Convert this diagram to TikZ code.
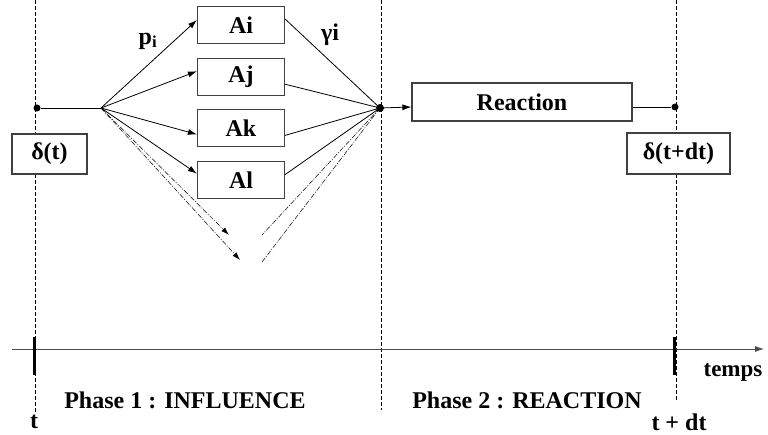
\documentclass[tikz,border=0pt]{standalone}
\usepackage{fontspec}
\setmainfont{Liberation Serif}
\usepackage{tikz}
\usetikzlibrary{arrows.meta,positioning,calc}

\begin{document}
\begin{tikzpicture}[
      x=1pt, y=-1pt,
      node distance=13.5pt,
      font=\fontsize{24}{28}\selectfont\bfseries,
      box/.style={draw=black!75, line width=1.2pt, fill=white, inner sep=0pt, minimum width=87pt, minimum height=37pt},
      arr/.style={-{Latex[length=9pt,width=6pt]}, line width=0.8pt},
      lnk/.style={line width=0.8pt},
      guide/.style={line width=0.7pt, dash pattern=on 4pt off 2pt},
      hint/.style={line width=0.5pt, dash pattern=on 5pt off 1.5pt on 1pt off 1.5pt},
      dotmark/.style={circle, fill=black, inner sep=0pt, minimum size=7pt},
      tick/.style={line width=3pt}
    ]
      \useasboundingbox (0,0) rectangle (768,435);
      % dashed time guides
      \draw[guide] (35,0) -- (35,412);
      \draw[guide] (381,0) -- (381,410);
      \draw[guide] (676,0) -- (676,400);
      % time axis
      \coordinate (tl0) at (12,349);
      \coordinate (tl1) at (764,349);
      \draw[arr, draw=black!70] (tl0) -- (tl1);
      \draw[tick] (34,337) -- (34,375);
      \draw[tick] (674,337) -- (674,375);
      % states
      \node[box, minimum width=75pt, minimum height=40pt] (st0) at (49.5,154) {δ(t)};
      \node[box, minimum width=103pt, minimum height=41pt] (st1) at (678.5,153.5) {δ(t+dt)};
      % influences
      \node[box] (ai) at (241,25) {Ai};
      \node[box, below=of ai] (aj) {Aj};
      \node[box, below=of aj] (ak) {Ak};
      \node[box, below=of ak] (al) {Al};
      \node[box, minimum width=220pt, minimum height=38pt] (reac) at (522,102) {Reaction};
      \node[dotmark] (d0) at (37,108) {};
      \node[dotmark] (d1) at (675,107) {};
      \node[dotmark, minimum size=8pt] (mrg) at (380,108) {};
      \coordinate (fork) at (101,108);
      \coordinate (h1) at (229,235);
      \coordinate (h2) at (240,260);
      \coordinate (h3) at (262,235);
      \coordinate (h4) at (262,262);
      \draw[lnk] (d0) -- (fork);
      \draw[arr] (fork) -- ($(ai.west)+(0,-5)$);
      \draw[arr] (fork) -- ($(aj.west)+(0,-5.5)$);
      \draw[arr] (fork) -- ($(ak.west)+(0,6)$);
      \draw[arr] (fork) -- ($(al.west)+(0,-6.5)$);
      \draw[hint, -{Latex[length=8pt,width=5pt]}] (fork) -- (h1);
      \draw[hint, -{Latex[length=8pt,width=5pt]}] (fork) -- (h2);
      \draw[lnk] ($(ai.east)+(0,-6)$) -- (mrg.center);
      \draw[lnk] ($(aj.east)+(0,7.5)$) -- (mrg.center);
      \draw[lnk] ($(ak.east)+(0,7)$) -- (mrg.center);
      \draw[lnk] ($(al.east)+(0,-5.5)$) -- (mrg.center);
      \draw[hint] (mrg.center) -- (h3);
      \draw[hint] (mrg.center) -- (h4);
      \draw[arr] (mrg.center) -- ($(reac.west)+(0,5)$);
      \draw[lnk] ($(reac.east)+(0,5)$) -- (d1);
      % labels
      \node (pi) at (148,41) {p\textsubscript{i}};
      \node (gi) at (330,35) {γi};
      \node (tlab) at (34,422) {t};
      \node (tdlab) at (679,422) {t + dt};
      \node[font=\fontsize{23}{27}\selectfont\bfseries] (temps) at (733,372) {temps};
      \node (ph1) at (185,400) {Phase 1 : INFLUENCE};
      \node (ph2) at (527,400) {Phase 2 : REACTION};
    \end{tikzpicture}
\end{document}
